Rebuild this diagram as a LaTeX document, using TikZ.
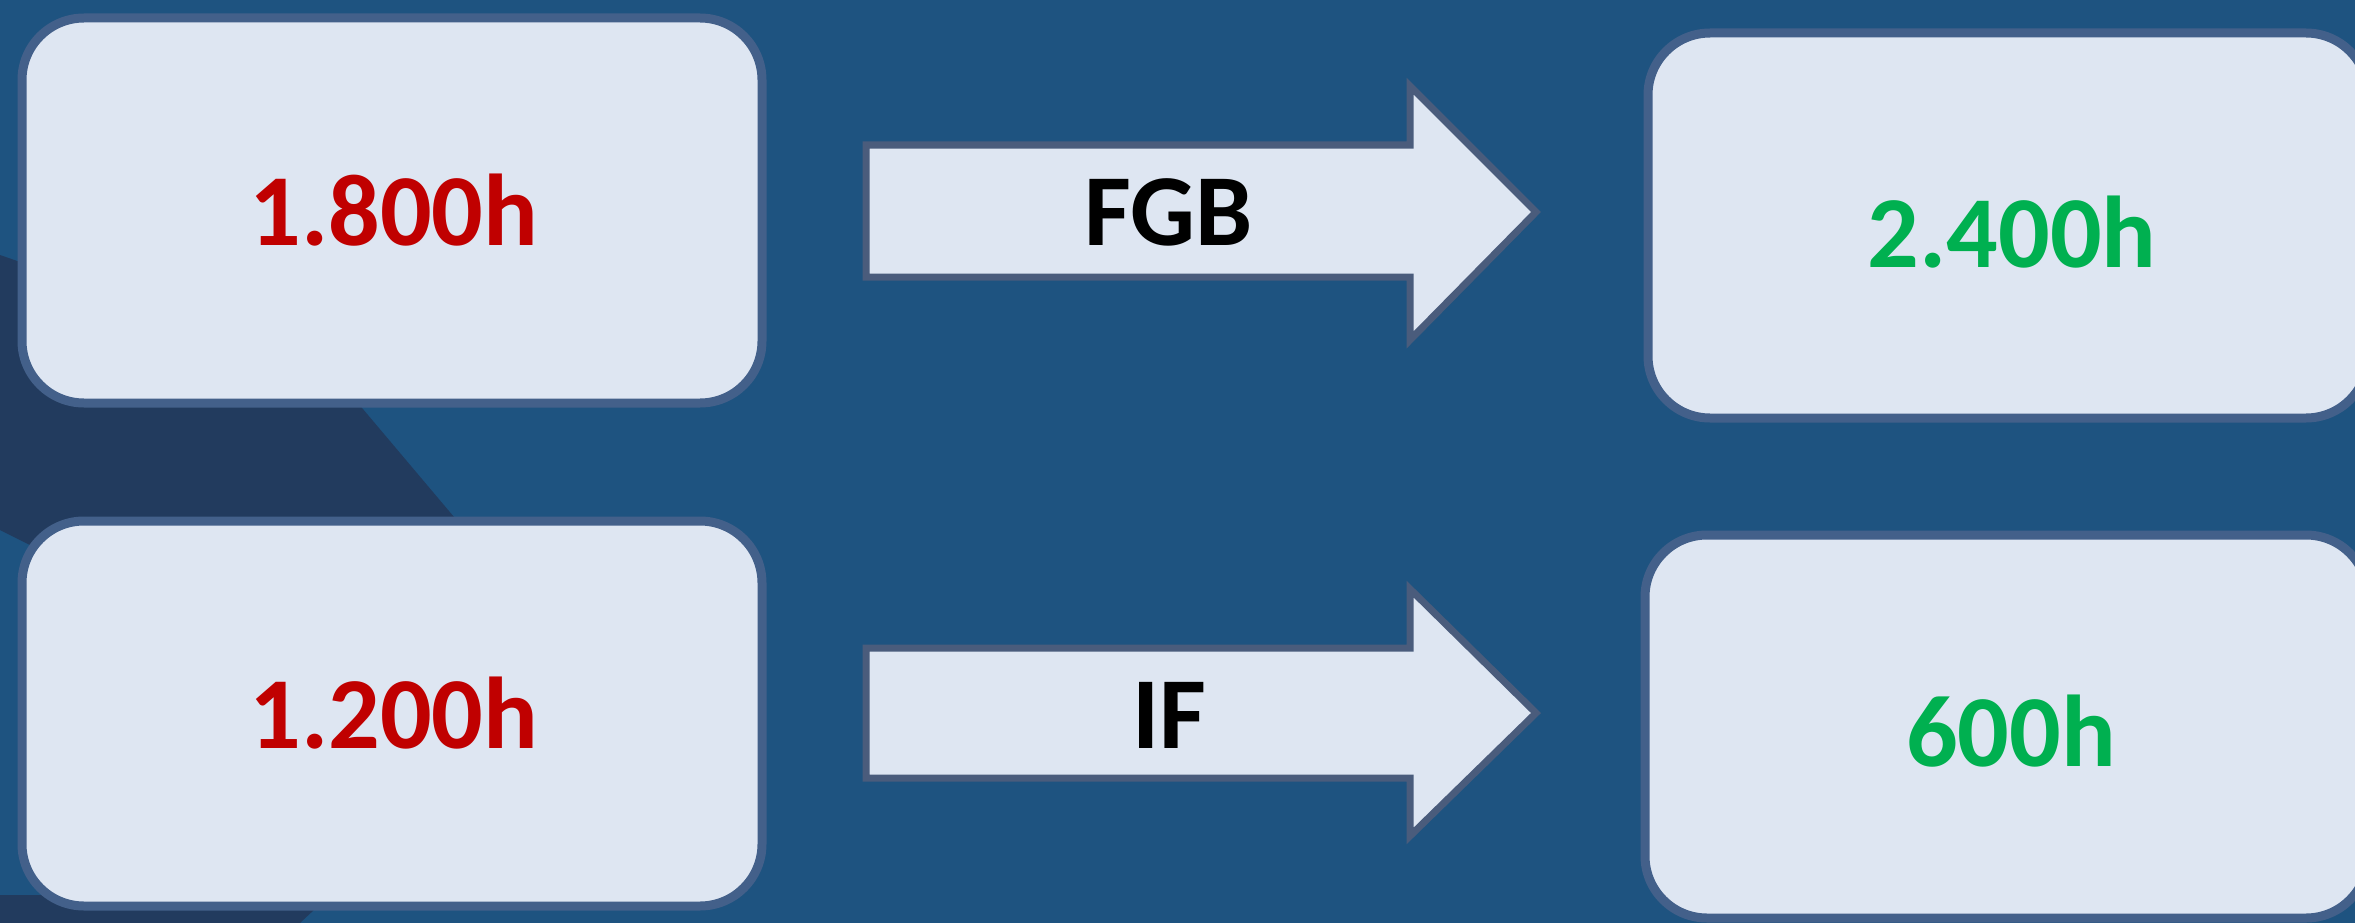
\documentclass[tikz,border=0pt]{standalone}
\usepackage{fontspec}
\setmainfont{Carlito}
\definecolor{bgblue}{HTML}{1E5380}
\definecolor{bgdark}{HTML}{223B5E}
\definecolor{boxfill}{HTML}{DEE6F2}
\definecolor{boxline}{HTML}{43608A}
\definecolor{arrline}{HTML}{4A5C7C}
\definecolor{numred}{HTML}{C00000}
\definecolor{numgreen}{HTML}{00B050}
\tikzset{
  valbox/.style={draw=boxline, fill=boxfill, line width=9pt, rounded corners=62pt, inner sep=0pt},
  arrshape/.style={draw=arrline, fill=boxfill, line width=7pt, line join=miter},
  bigtext/.style={font=\fontsize{102}{120}\selectfont\bfseries, anchor=base, inner sep=0pt},
}
\begin{document}
\begin{tikzpicture}[x=1pt,y=-1pt]
\useasboundingbox (0,0) rectangle (2355,923);
% background
\fill[bgblue] (0,0) rectangle (2355,923);
\fill[bgdark] (0,255) -- (330,370) -- (465,530) -- (60,560) -- (0,530) -- cycle;
\fill[bgdark] (0,895) -- (330,895) -- (300,923) -- (0,923) -- cycle;
% boxes
\draw[valbox] (22,18) rectangle (762,403);
\node[inner sep=0pt, minimum size=0pt] (tl) at (392,210) {};
\draw[valbox] (22,521) rectangle (762,906);
\node[inner sep=0pt, minimum size=0pt] (bl) at (392,713) {};
\draw[valbox] (1648,33) rectangle (2368,418);
\node[inner sep=0pt, minimum size=0pt] (tr) at (2008,225) {};
\draw[valbox] (1645,535) rectangle (2368,918);
\node[inner sep=0pt, minimum size=0pt] (br) at (2006,727) {};
% arrows
\draw[arrshape] (866,145) -- (1410,145) -- (1410,86) -- (1536,212) -- (1410,340) -- (1410,277) -- (866,277) -- cycle;
\draw[arrshape] (866,648) -- (1410,648) -- (1410,589) -- (1536,713) -- (1410,836) -- (1410,778) -- (866,778) -- cycle;
% texts
\node[bigtext, text=numred] (t1) at (394,245) {1.800h};
\node[bigtext, text=numred] (t2) at (394,748) {1.200h};
\node[bigtext, text=numgreen] (t3) at (2012,267) {2.400h};
\node[bigtext, text=numgreen] (t4) at (2011,766) {600h};
\node[bigtext, text=black] (t5) at (1169,245) {FGB};
\node[bigtext, text=black] (t6) at (1169,748) {IF};
\end{tikzpicture}
\end{document}
